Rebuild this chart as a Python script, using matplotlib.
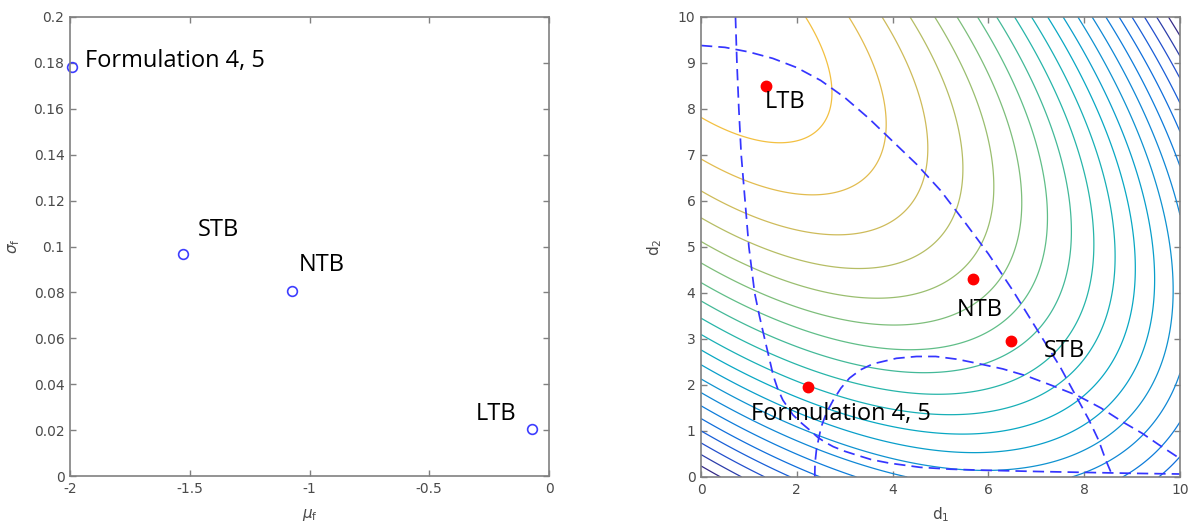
import numpy as np
import matplotlib
matplotlib.use("Agg")
import matplotlib.pyplot as plt
from matplotlib.colors import LinearSegmentedColormap, Normalize

# ---- left panel: mean / std of f for each solution
names = ["Formulation 4, 5", "STB", "NTB", "LTB"]
mu_f = [-1.993, -1.529, -1.075, -0.072]
sigma_f = [0.1784, 0.0967, 0.0804, 0.0204]

# ---- right panel: optimum design points
d1_opt = [2.24, 6.48, 5.67, 1.36]
d2_opt = [1.96, 2.96, 4.31, 8.49]

# objective surface, read off from the contour spacing
# f = -(qa*d1^2 + qa*w^2 - qb*d1*w), w = 10 - d2
qa = 0.21
qb = 0.253
contour_levels = list(range(-20, 0))

# dashed constraint boundaries
c1_d1 = [0.72, 0.75, 0.79, 0.84, 0.92, 1.00, 1.12, 1.22, 1.33, 1.42, 1.51, 1.60, 1.71, 1.92, 2.10, 2.27, 2.44, 2.60, 2.76, 3.00, 3.24, 3.55, 3.94, 4.58, 5.20, 5.80, 7.00, 8.00, 9.00, 10.0]
c1_d2 = [10.0, 9.0, 8.0, 7.0, 6.0, 5.0, 4.0, 3.5, 3.0, 2.6, 2.2, 1.92, 1.67, 1.35, 1.17, 1.02, 0.86, 0.75, 0.66, 0.56, 0.48, 0.38, 0.30, 0.21, 0.17, 0.15, 0.12, 0.10, 0.08, 0.065]
c2_d1 = [0.0, 0.5, 1.0, 1.5, 2.0, 2.5, 3.0, 3.5, 4.0, 4.5, 5.0, 5.5, 6.0, 6.5, 7.0, 7.5, 7.86, 8.10, 8.30, 8.45, 8.60]
c2_d2 = [9.38, 9.34, 9.24, 9.10, 8.90, 8.62, 8.25, 7.80, 7.30, 6.80, 6.23, 5.55, 4.85, 4.07, 3.23, 2.39, 1.70, 1.24, 0.80, 0.37, 0.0]
c3_d1 = [2.375, 2.38, 2.41, 2.46, 2.51, 2.62, 2.76, 2.92, 3.10, 3.33, 3.59, 4.08, 4.50, 4.90, 5.35, 5.77, 6.30, 6.79, 7.30, 7.86, 8.35, 8.80, 9.21, 9.56, 10.0]
c3_d2 = [0.0, 0.30, 0.59, 0.85, 1.09, 1.40, 1.67, 1.93, 2.15, 2.33, 2.46, 2.58, 2.62, 2.62, 2.56, 2.47, 2.35, 2.20, 2.00, 1.77, 1.50, 1.20, 0.95, 0.70, 0.40]

# parula-like colormap
parula = LinearSegmentedColormap.from_list("parula", [
    (0 / 63, (0.2081, 0.1663, 0.5292)),
    (6 / 63, (0.1253, 0.3242, 0.8303)),
    (12 / 63, (0.0498, 0.4586, 0.8641)),
    (18 / 63, (0.0641, 0.5570, 0.8240)),
    (24 / 63, (0.0228, 0.6535, 0.7768)),
    (30 / 63, (0.1453, 0.7098, 0.6646)),
    (36 / 63, (0.3953, 0.7459, 0.5244)),
    (42 / 63, (0.6473, 0.7456, 0.4188)),
    (48 / 63, (0.8507, 0.7299, 0.3360)),
    (54 / 63, (0.9990, 0.7653, 0.2164)),
    (58 / 63, (0.9697, 0.8481, 0.1475)),
    (63 / 63, (0.9763, 0.9831, 0.0538)),
])

axcol = "#808080"
tickcol = "#4a4a4a"
labfont = ["Open Sans", "DejaVu Sans"]

fig = plt.figure(figsize=(11.92, 5.30), dpi=100)
ax1 = fig.add_axes([70 / 1192, 1 - 476 / 530, 479 / 1192, 459 / 530])
ax2 = fig.add_axes([701 / 1192, 1 - 477 / 530, 479 / 1192, 460 / 530])


def style(ax):
    for s in ax.spines.values():
        s.set_color(axcol)
        s.set_linewidth(1.2)
    ax.tick_params(direction="in", length=4, width=1, color=axcol,
                   labelcolor=tickcol, labelsize=10, top=True, right=True, pad=4)


# left
ax1.plot(mu_f, sigma_f, "o", ms=7, mfc="none", mec="#3d3dff", mew=1.2, clip_on=False)
offs = [(13, 5.5, "left"), (15, 24, "left"), (7, 26.6, "left"), (-15, 15.6, "right")]
for n, x, y, (dx, dy, ha) in zip(names, mu_f, sigma_f, offs):
    ax1.annotate(n, (x, y), xytext=(dx * 0.72, dy * 0.72), textcoords="offset points",
                 ha=ha, va="center", fontsize=17, family=labfont)
ax1.set_xlim(-2, 0)
ax1.set_ylim(0, 0.2)
ax1.set_xticks([-2, -1.5, -1, -0.5, 0])
ax1.set_xticklabels(["-2", "-1.5", "-1", "-0.5", "0"])
yt = [0, 0.02, 0.04, 0.06, 0.08, 0.1, 0.12, 0.14, 0.16, 0.18, 0.2]
ax1.set_yticks(yt)
ax1.set_yticklabels(["0", "0.02", "0.04", "0.06", "0.08", "0.1", "0.12", "0.14", "0.16", "0.18", "0.2"])
ax1.set_xlabel(r"$\mu_\mathrm{f}$", color=tickcol, fontsize=11, labelpad=8)
ax1.set_ylabel(r"$\sigma_\mathrm{f}$", color=tickcol, fontsize=11, labelpad=8)
style(ax1)

# right
g1, g2 = np.meshgrid(np.linspace(0, 10, 301), np.linspace(0, 10, 301))
w = 10 - g2
F = -(qa * g1 ** 2 + qa * w ** 2 - qb * g1 * w)
ax2.contour(g1, g2, F, levels=contour_levels, cmap=parula, norm=Normalize(-20, 3), linewidths=0.9)
dash = (0, (6.5, 3.5))
for cx, cy in [(c1_d1, c1_d2), (c2_d1, c2_d2), (c3_d1, c3_d2)]:
    ax2.plot(cx, cy, color="#3535ff", lw=1.25, linestyle=dash)
ax2.plot(d1_opt, d2_opt, "o", ms=7.5, color="red", mec="red")
offs2 = [(-57.5, -27.6, "left"), (32, -10, "left"), (7.6, -31, "center"), (-1, -15.6, "left")]
for n, x, y, (dx, dy, ha) in zip(names, d1_opt, d2_opt, offs2):
    ax2.annotate(n, (x, y), xytext=(dx * 0.72, dy * 0.72), textcoords="offset points",
                 ha=ha, va="center", fontsize=17, family=labfont)
ax2.set_xlim(0, 10)
ax2.set_ylim(0, 10)
ax2.set_xticks([0, 2, 4, 6, 8, 10])
ax2.set_yticks(range(0, 11))
ax2.set_xlabel("d$_1$", color=tickcol, fontsize=11, labelpad=6)
ax2.set_ylabel("d$_2$", color=tickcol, fontsize=11, labelpad=10)
style(ax2)

fig.savefig("out.png", dpi=100)
